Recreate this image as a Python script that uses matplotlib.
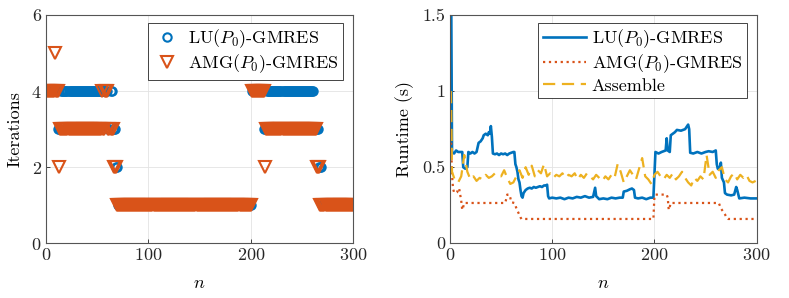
import numpy as np
import matplotlib
matplotlib.use('Agg')
import matplotlib.pyplot as plt

# iteration counts per step n, as (value, run length)
lu_runs = [(4, 11), (3, 3), (4, 46), (3, 2), (4, 2), (3, 3), (2, 2), (1, 131),
           (4, 12), (3, 3), (4, 46), (3, 5), (2, 3), (1, 31)]
amg_runs = [(4, 8), (5, 1), (4, 3), (2, 1), (3, 41), (4, 1), (3, 2), (4, 3), (3, 5),
            (2, 3), (1, 132),
            (4, 13), (2, 1), (3, 50), (2, 3), (1, 33)]

# runtimes (s), breakpoints
lu_n = [1, 2, 4, 6, 8, 10, 12, 13, 15, 17, 18, 20, 22, 24, 26, 27, 28, 30, 32, 33,
        35, 37, 38, 39, 40, 41, 42, 44, 46, 48, 50, 52, 54, 56, 58, 60, 62, 63, 64, 65,
        66, 67, 68, 69, 70, 71, 72, 74, 76, 78, 80, 82, 84, 86, 88, 90, 92, 94, 95, 96,
        97, 100, 104, 108, 112, 116, 120, 124, 128, 132, 136, 140, 142, 143, 146, 150, 154, 158, 162, 166,
        169, 170, 173, 176, 178, 180, 181, 184, 188, 192, 196, 199, 200, 201, 204, 207, 211, 212, 213, 215,
        216, 218, 220, 222, 226, 230, 233, 234, 235, 238, 242, 246, 250, 253, 257, 260, 261, 262, 264, 265,
        266, 268, 269, 271, 275, 278, 280, 281, 283, 288, 294, 300]
lu_t = [1.9, 0.60, 0.59, 0.61, 0.60, 0.60, 0.60, 0.50, 0.49, 0.50, 0.60, 0.59, 0.60, 0.59, 0.60, 0.63, 0.66, 0.67, 0.69, 0.71,
        0.72, 0.71, 0.73, 0.72, 0.77, 0.70, 0.59, 0.585, 0.59, 0.58, 0.59, 0.585, 0.59, 0.58, 0.59, 0.595, 0.60, 0.60, 0.52, 0.50,
        0.47, 0.42, 0.40, 0.35, 0.31, 0.30, 0.33, 0.35, 0.36, 0.365, 0.36, 0.37, 0.365, 0.37, 0.375, 0.37, 0.38, 0.38, 0.385, 0.31,
        0.295, 0.30, 0.295, 0.30, 0.29, 0.30, 0.295, 0.305, 0.30, 0.31, 0.30, 0.305, 0.365, 0.31, 0.29, 0.295, 0.29, 0.30, 0.295, 0.30,
        0.30, 0.34, 0.345, 0.355, 0.36, 0.35, 0.30, 0.295, 0.30, 0.29, 0.30, 0.30, 0.45, 0.60, 0.59, 0.60, 0.61, 0.69, 0.61, 0.60,
        0.71, 0.72, 0.73, 0.745, 0.74, 0.75, 0.78, 0.75, 0.595, 0.59, 0.60, 0.59, 0.60, 0.605, 0.60, 0.61, 0.52, 0.49, 0.50, 0.53,
        0.43, 0.40, 0.33, 0.32, 0.315, 0.32, 0.37, 0.35, 0.295, 0.30, 0.295, 0.295]

amg_n = [1, 2, 3, 4, 6, 7, 8, 9, 10, 11, 12, 13, 14, 54, 55, 56, 58, 59, 60, 63,
         65, 67, 69, 70, 199, 200, 201, 212, 213, 214, 215, 216, 263, 265, 267, 269, 271, 272, 300]
amg_t = [0.70, 0.45, 0.36, 0.335, 0.33, 0.335, 0.36, 0.36, 0.32, 0.28, 0.22, 0.24, 0.265, 0.265, 0.29, 0.32, 0.32, 0.30, 0.27, 0.265,
         0.23, 0.20, 0.17, 0.16, 0.16, 0.31, 0.32, 0.32, 0.30, 0.22, 0.24, 0.265, 0.265, 0.23, 0.21, 0.19, 0.165, 0.16, 0.16]

asm_n = [1] + list(range(2, 300, 3))
asm_t = [1.0,
         0.47, 0.41, 0.40, 0.44, 0.58, 0.47, 0.42, 0.44, 0.41, 0.43,
         0.42, 0.45, 0.43, 0.44, 0.46, 0.45, 0.44, 0.48, 0.43, 0.39,
         0.40, 0.44, 0.48, 0.43, 0.50, 0.45, 0.51, 0.44, 0.48, 0.46,
         0.52, 0.44, 0.46, 0.43, 0.45, 0.44, 0.46, 0.43, 0.45, 0.44,
         0.46, 0.42, 0.45, 0.43, 0.46, 0.44, 0.42, 0.45, 0.43, 0.41,
         0.44, 0.42, 0.45, 0.43, 0.52, 0.47, 0.40, 0.44, 0.48, 0.45,
         0.42, 0.49, 0.56, 0.44, 0.42, 0.39, 0.45, 0.47, 0.44, 0.42,
         0.45, 0.43, 0.46, 0.42, 0.44, 0.47, 0.43, 0.40, 0.38, 0.43,
         0.41, 0.44, 0.42, 0.58, 0.45, 0.47, 0.43, 0.48, 0.50, 0.42,
         0.40, 0.44, 0.46, 0.42, 0.45, 0.43, 0.45, 0.41, 0.40, 0.41]

BLUE = '#0072BD'
ORANGE = '#D95319'
YELLOW = '#EDB120'
AXC = '#262626'
FS = 13

plt.rcParams['font.family'] = 'serif'
plt.rcParams['font.serif'] = ['cmr10']
plt.rcParams['mathtext.fontset'] = 'cm'
plt.rcParams['axes.formatter.use_mathtext'] = True
plt.rcParams['font.size'] = FS


def expand(runs):
    vals, counts = zip(*runs)
    return np.repeat(vals, counts)


def style(ax):
    ax.grid(True, color='#e3e3e3', lw=0.6)
    ax.set_axisbelow(True)
    for s in ax.spines.values():
        s.set_color('#555555')
        s.set_linewidth(0.8)
    ax.tick_params(direction='in', length=3, width=0.6, colors=AXC,
                   top=False, right=False, labelsize=FS, pad=3)


def main():
    fig = plt.figure(figsize=(7.89, 2.98), dpi=100)
    ax1 = fig.add_axes([0.0583, 0.1835, 0.3893, 0.7662])
    ax2 = fig.add_axes([0.5703, 0.1835, 0.3887, 0.7662])

    it_lu = expand(lu_runs)
    it_amg = expand(amg_runs)
    n_it = np.arange(1, len(it_lu) + 1)

    ax1.plot(n_it, it_lu, 'o', ms=6, mfc='none', mec=BLUE, mew=1.5,
             label=r'LU($P_0$)-GMRES')
    ax1.plot(n_it, it_amg, 'v', ms=8, mfc='none', mec=ORANGE, mew=1.5,
             label=r'AMG($P_0$)-GMRES')
    ax1.set_xlim(0, 300)
    ax1.set_ylim(0, 6)
    ax1.set_xticks([0, 100, 200, 300])
    ax1.set_yticks([0, 2, 4, 6])
    ax1.set_xlabel(r'$n$', fontsize=FS, labelpad=9)
    ax1.set_ylabel('Iterations', fontsize=FS, labelpad=6)
    style(ax1)
    leg1 = ax1.legend(loc='upper right', bbox_to_anchor=(0.968, 0.966),
                      fancybox=False, framealpha=1, edgecolor=AXC,
                      handletextpad=0.4, borderpad=0.25, labelspacing=0.15,
                      handlelength=1.6, fontsize=FS, borderaxespad=0)
    leg1.get_frame().set_linewidth(0.6)

    ax2.plot(lu_n, lu_t, '-', color=BLUE, lw=1.9, label=r'LU($P_0$)-GMRES')
    ax2.plot(amg_n, amg_t, ':', color=ORANGE, lw=1.6, label=r'AMG($P_0$)-GMRES')
    ax2.plot(asm_n, asm_t, '--', color=YELLOW, lw=1.6, dashes=(5.5, 3),
             label='Assemble')
    ax2.set_xlim(0, 300)
    ax2.set_ylim(0, 1.5)
    ax2.set_xticks([0, 100, 200, 300])
    ax2.set_yticks([0, 0.5, 1, 1.5])
    ax2.set_yticklabels(['0', '0.5', '1', '1.5'])
    ax2.set_xlabel(r'$n$', fontsize=FS, labelpad=9)
    ax2.set_ylabel('Runtime (s)', fontsize=FS, labelpad=6)
    style(ax2)
    leg2 = ax2.legend(loc='upper right', bbox_to_anchor=(0.968, 0.966),
                      fancybox=False, framealpha=1, edgecolor=AXC,
                      handlelength=2.4, handletextpad=0.3, borderpad=0.25,
                      labelspacing=0.15, fontsize=FS, borderaxespad=0)
    leg2.get_frame().set_linewidth(0.6)

    fig.savefig('out.png', dpi=100)


if __name__ == '__main__':
    main()
